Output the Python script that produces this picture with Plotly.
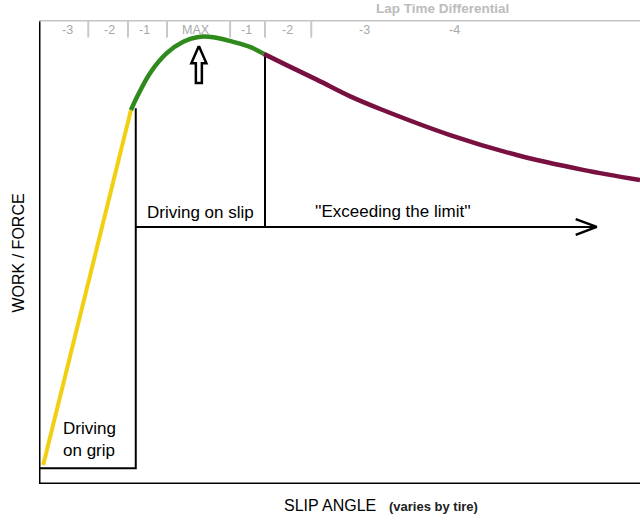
import plotly.graph_objects as go

# ---- data (slip angle units 0-100, force units 0-100) ----
grip_x = [0.7, 15.3]
grip_y = [4.1, 80.6]

slip_x = [15.3, 16.3, 18.5, 21.3, 24.0, 26.3, 29.0, 32.3, 35.1, 37.4]
slip_y = [80.6, 83.4, 88.6, 92.9, 95.3, 96.3, 96.3, 95.3, 94.2, 92.7]

limit_x = [37.4, 41.8, 46.3, 51.7, 57.2, 68.4, 79.5, 90.5, 100.0]
limit_y = [92.7, 89.9, 87.1, 83.6, 80.6, 75.2, 70.9, 67.7, 65.5]

# zone boundaries
grip_edge_x = 16.1
grip_floor_y = 3.4
slip_edge_x = 37.6
limit_arrow_y = 55.4
limit_arrow_end_x = 92.8

# lap-time differential scale
sep_x = [8.2, 14.8, 21.3, 31.8, 37.6, 45.3]
lap_label_x = [4.7, 11.8, 17.6, 26.1, 34.6, 41.4, 54.2, 69.2]
lap_labels = ["-3", "-2", "-1", "MAX", "-1", "-2", "-3", "-4"]
max_marker_x = 26.6

YELLOW = "#f0d010"
GREEN = "#2f8a1c"
MAROON = "#781040"
GRAY = "#a8a8a8"
BLACK = "#000000"
FONT = "Liberation Sans, Arial, sans-serif"
NARROW = "Liberation Sans Narrow, Arial Narrow, Liberation Sans, sans-serif"

fig = go.Figure()

def line(xs, ys, color, width, shape="linear"):
    fig.add_trace(go.Scatter(x=xs, y=ys, mode="lines",
                             line=dict(color=color, width=width, shape=shape),
                             hoverinfo="skip", showlegend=False))

# axes frame
line([0, 0], [0, 100], BLACK, 3)
line([0, 100], [0, 0], BLACK, 3)
line([0, 100], [100, 100], "#c4c4c4", 3)

# scale separators
for sx in sep_x:
    line([sx, sx], [100, 96.2], "#c8c8c8", 2)

# zone boxes
line([grip_edge_x, grip_edge_x, 0], [grip_y[1] + 0.4, grip_floor_y, grip_floor_y], BLACK, 2)
line([slip_edge_x, slip_edge_x], [slip_y[-1], limit_arrow_y], BLACK, 2)
line([grip_edge_x, limit_arrow_end_x], [limit_arrow_y, limit_arrow_y], BLACK, 2)
# open arrow head
line([limit_arrow_end_x - 3.5, limit_arrow_end_x, limit_arrow_end_x - 3.5],
     [limit_arrow_y + 1.7, limit_arrow_y, limit_arrow_y - 1.7], BLACK, 2.5)

# curves
line(grip_x, grip_y, YELLOW, 4)
line(slip_x, slip_y, GREEN, 4.5, "spline")
line(limit_x, limit_y, MAROON, 4.5, "spline")

# hollow up arrow marking MAX
tip, base, bottom = 94.4, 90.7, 86.4
hw, sw = 1.25, 0.5
ax = max_marker_x
fig.add_trace(go.Scatter(
    x=[ax, ax + hw, ax + sw, ax + sw, ax - sw, ax - sw, ax - hw, ax],
    y=[tip, base, base, bottom, bottom, base, base, tip],
    mode="lines", fill="toself", fillcolor="white",
    line=dict(color=BLACK, width=2.5), hoverinfo="skip", showlegend=False))

annotations = []
for lx, lt in zip(lap_label_x, lap_labels):
    annotations.append(dict(x=lx, y=97.8, xref="x", yref="y", text=lt, showarrow=False,
                            xanchor="center", yanchor="middle",
                            font=dict(family=NARROW, size=12.5, color=GRAY)))

def note(x, y, text, size, family=FONT, color=BLACK, ref="paper", **kw):
    d = dict(x=x, y=y, xref=ref if ref == "paper" else "x", yref=ref if ref == "paper" else "y",
             text=text, showarrow=False, xanchor="center", yanchor="middle",
             font=dict(family=family, size=size, color=color))
    d.update(kw)
    annotations.append(d)

note(0.671, 1.024, "<b>Lap Time Differential</b>", 13.5, NARROW, "#bcbcbc")
note(26.9, 58.6, "Driving on slip", 17, ref="data")
note(58.9, 58.8, "''Exceeding the limit''", 17, ref="data")
note(3.6, 9.5, "Driving<br>on grip", 17, ref="data", xanchor="left", align="left")
note(-0.034, 0.498, "WORK / FORCE", 16, textangle=-90)
note(0.484, -0.047, "SLIP ANGLE", 16)
note(0.657, -0.049, "<b>(varies by tire)</b>", 13, color="#202020")

fig.update_layout(
    width=640, height=528,
    margin=dict(l=39, r=0, t=20, b=44),
    paper_bgcolor="white", plot_bgcolor="white",
    xaxis=dict(range=[0, 100], visible=False, fixedrange=True),
    yaxis=dict(range=[0, 100], visible=False, fixedrange=True),
    annotations=annotations,
    showlegend=False,
)

fig.write_html("out.html", config={"displayModeBar": False},
               post_script="document.body.style.margin='0';")
